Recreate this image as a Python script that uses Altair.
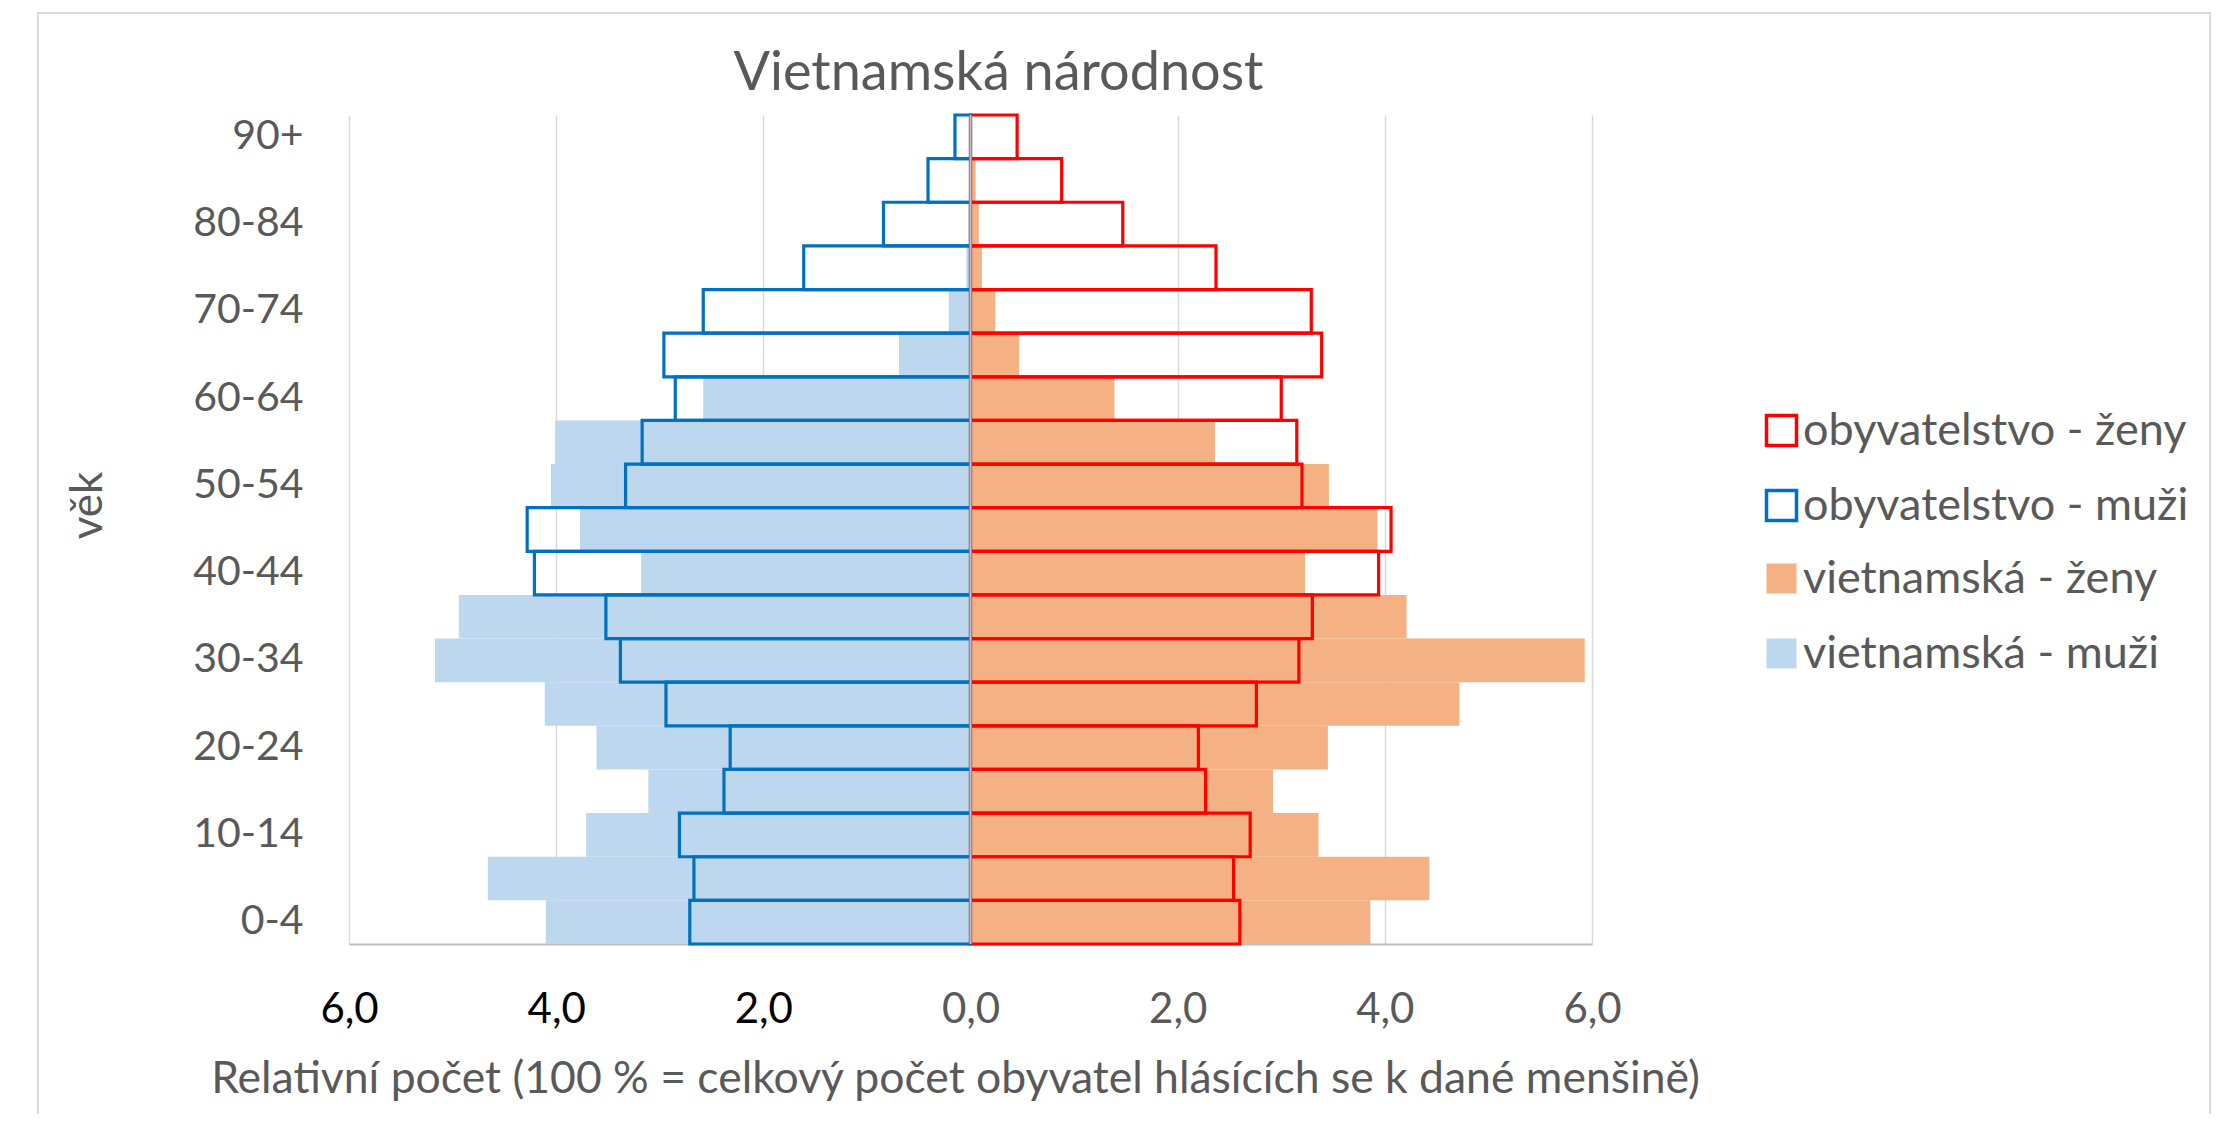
import altair as alt
import pandas as pd

ages = ["90+", "85-89", "80-84", "75-79", "70-74", "65-69", "60-64", "55-59",
        "50-54", "45-49", "40-44", "35-39", "30-34", "25-29", "20-24", "15-19",
        "10-14", "5-9", "0-4"]
age_labels = ["90+", "80-84", "70-74", "60-64", "50-54", "40-44", "30-34",
              "20-24", "10-14", "0-4"]

obyv_zeny = [0.45, 0.88, 1.47, 2.37, 3.29, 3.39, 3.00, 3.15, 3.20, 4.06,
             3.94, 3.30, 3.17, 2.76, 2.20, 2.27, 2.70, 2.54, 2.60]
obyv_muzi = [0.15, 0.41, 0.84, 1.61, 2.58, 2.96, 2.85, 3.17, 3.33, 4.28,
             4.21, 3.52, 3.38, 2.94, 2.32, 2.38, 2.81, 2.67, 2.71]
viet_zeny = [0.00, 0.05, 0.08, 0.11, 0.24, 0.47, 1.39, 2.36, 3.46, 3.93,
             3.23, 4.21, 5.93, 4.72, 3.45, 2.92, 3.36, 4.43, 3.86]
viet_muzi = [0.00, 0.01, 0.02, 0.04, 0.21, 0.69, 2.58, 4.01, 4.05, 3.77,
             3.18, 4.94, 5.17, 4.11, 3.61, 3.11, 3.71, 4.66, 4.10]

x_ticks = [-6, -4, -2, 0, 2, 4, 6]

FONT = "Lato"
GRAY = "#595959"

rows_fill = []
rows_line = []
for i, a in enumerate(ages):
    rows_fill.append({"age": a, "series": "vietnamská - ženy", "v": viet_zeny[i]})
    rows_fill.append({"age": a, "series": "vietnamská - muži", "v": -viet_muzi[i]})
    rows_line.append({"age": a, "series": "obyvatelstvo - ženy", "v": obyv_zeny[i]})
    rows_line.append({"age": a, "series": "obyvatelstvo - muži", "v": -obyv_muzi[i]})
df_fill = pd.DataFrame(rows_fill)
df_line = pd.DataFrame(rows_line)

x_enc = alt.X(
    "v:Q",
    scale=alt.Scale(domain=[-6, 6], nice=False),
    axis=alt.Axis(
        values=x_ticks,
        labelExpr="replace(format(abs(datum.value), '.1f'), '.', ',')",
        grid=True, gridColor="#D9D9D9", gridWidth=1.5,
        ticks=False, domainColor="#BFBFBF", domainWidth=2,
        labelFont=FONT, labelFontSize=42, labelFlush=False,
        labelColor=alt.condition("datum.value < 0", alt.value("black"), alt.value(GRAY)),
        labelPadding=45,
        title="Relativní počet (100 % = celkový počet obyvatel hlásících se k dané menšině)",
        titleFont=FONT, titleFontSize=44.5, titleColor=GRAY, titleFontWeight="normal",
        titlePadding=27, titleX=606, titleAlign="center",
    ),
)
y_enc = alt.Y(
    "age:N", sort=ages,
    scale=alt.Scale(paddingInner=0, paddingOuter=0),
    axis=alt.Axis(
        values=age_labels, ticks=False, domain=False, grid=False,
        labelFont=FONT, labelFontSize=41, labelColor=GRAY, labelPadding=46,
        title="věk", titleFont=FONT, titleFontSize=44, titleColor=GRAY,
        titleFontWeight="normal", titleX=-261, titleY=390, titleAngle=270,
        titleAlign="center", titleBaseline="middle",
    ),
)

legend_common = dict(
    title=None, orient="none", legendX=1410, padding=0,
    symbolType="square", symbolSize=900,
    labelFont=FONT, labelFontSize=45, labelColor=GRAY, labelLimit=0,
    labelOffset={"expr": "-1"}, rowPadding=29,
)

fills = alt.Chart(df_fill).mark_bar(strokeWidth=0).encode(
    x=x_enc, x2=alt.datum(0), y=y_enc,
    fill=alt.Fill(
        "series:N",
        scale=alt.Scale(domain=["vietnamská - ženy", "vietnamská - muži"],
                        range=["#F4B183", "#BDD7EE"]),
        legend=alt.Legend(legendY=441, symbolStrokeWidth=0, **legend_common),
    ),
)

lines = alt.Chart(df_line).mark_bar(fill="transparent", strokeWidth=3.2).encode(
    x=alt.X("v:Q"), x2=alt.datum(0), y=alt.Y("age:N", sort=ages),
    stroke=alt.Stroke(
        "series:N",
        scale=alt.Scale(domain=["obyvatelstvo - ženy", "obyvatelstvo - muži"],
                        range=["#FF0000", "#0070C0"]),
        legend=alt.Legend(legendY=293, symbolStrokeWidth=3.5,
                          symbolFillColor="transparent", **legend_common),
    ),
)

zero = alt.Chart(pd.DataFrame({"z": [0]})).mark_rule(color="#C9BFC2", strokeWidth=2).encode(
    x=alt.X("z:Q")
)

frame = alt.Chart(pd.DataFrame({"z": [0]})).mark_rect(
    fillOpacity=0, stroke="#D9D9D9", strokeWidth=2
).encode(
    x=alt.value(-311), x2=alt.value(1861), y=alt.value(-102), y2=alt.value(1100)
)

chart = alt.layer(frame, fills, lines, zero).properties(
    width=1243, height=829,
    title=alt.Title("Vietnamská národnost", font=FONT, fontSize=54, color=GRAY,
                    fontWeight="normal", anchor="middle", frame="group",
                    baseline="alphabetic", dx=28, dy=132, offset=0),
    autosize=alt.AutoSizeParams(type="none"),
    padding={"left": 341, "top": 107, "right": 636, "bottom": 170},
).configure_view(stroke=None)

chart.save("out.html", embed_options={"renderer": "svg", "actions": False})
